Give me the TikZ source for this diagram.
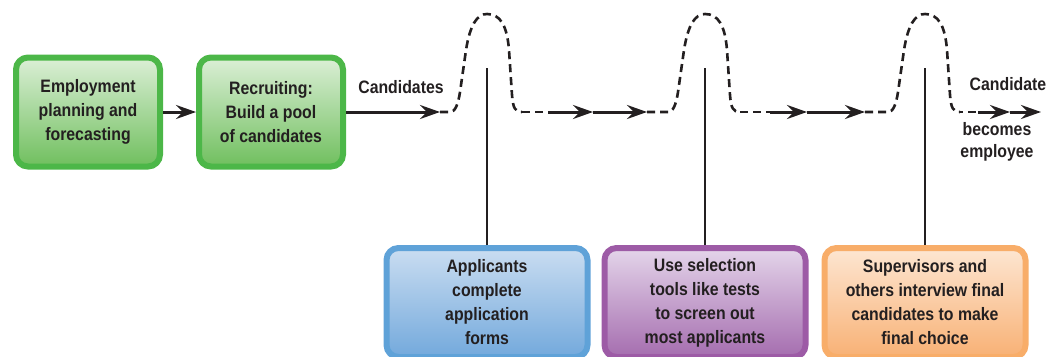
\documentclass[tikz,border=0pt]{standalone}
\usepackage{fontspec}
\usepackage{xcolor}
\setmainfont{Liberation Sans}[FakeStretch=0.88]
\usetikzlibrary{arrows.meta}

\definecolor{inktext}{HTML}{231F20}
\definecolor{grnline}{HTML}{4CB748}
\definecolor{grntop}{HTML}{DCEFD6}
\definecolor{grnbot}{HTML}{6FBF5E}
\definecolor{bluline}{HTML}{5FA2D8}
\definecolor{blutop}{HTML}{CADDF1}
\definecolor{blubot}{HTML}{73A9DC}
\definecolor{purline}{HTML}{9D5BA6}
\definecolor{purtop}{HTML}{E4D5EA}
\definecolor{purbot}{HTML}{A56DAF}
\definecolor{orgline}{HTML}{F8AD69}
\definecolor{orgtop}{HTML}{FDE6D2}
\definecolor{orgbot}{HTML}{F8B175}

\tikzset{
  stagebox/.style={rounded corners=12pt, line width=6pt, align=center, inner sep=0pt,
    text=inktext, font=\fontsize{18}{24}\selectfont\bfseries},
  topbox/.style={stagebox, minimum width=144pt, minimum height=109pt},
  lowbox/.style={stagebox, minimum width=201pt, minimum height=109pt},
  lbl/.style={text=inktext, font=\fontsize{18}{22}\selectfont\bfseries, align=center, inner sep=0pt},
  flow/.style={line width=3pt, draw=inktext, -{Stealth[length=20pt,width=14pt,inset=7pt]}},
  bump/.style={line width=2.6pt, draw=inktext, dash pattern=on 8pt off 5pt},
  dashdot/.style={line width=2.6pt, draw=inktext, dash pattern=on 8pt off 5pt on 8pt off 5pt on 3pt off 5pt},
  pole/.style={line width=2.6pt, draw=inktext},
}

\begin{document}
\begin{tikzpicture}[x=1pt,y=-1pt]
\clip (0,0) rectangle (1056,356);

% stages along the top
\node[topbox, draw=grnline, top color=grntop, bottom color=grnbot] (plan) at (88,112)
  {Employment\\planning and\\forecasting};
\node[topbox, draw=grnline, top color=grntop, bottom color=grnbot] (recruit) at (271,112)
  {Recruiting:\\Build a pool\\of candidates};

% screening boxes below
\node[lowbox, draw=bluline, top color=blutop, bottom color=blubot] (apply) at (487,302.5)
  {Applicants\\complete\\application\\forms};
\node[lowbox, draw=purline, top color=purtop, bottom color=purbot] (select) at (705,302.5)
  {Use selection\\tools like tests\\to screen out\\most applicants};
\node[lowbox, draw=orgline, top color=orgtop, bottom color=orgbot] (interview) at (925,302.5)
  {Supervisors and\\others interview final\\candidates to make\\final choice};

\node[lbl, anchor=base] (candlbl) at (401,93) {Candidates};
\node[lbl, anchor=base] (finallbl) at (1008,90) {Candidate};
\node[lbl, anchor=base] (employlbl) at (997,157) {becomes\\employee};

\coordinate (lead1) at (440,112);
\coordinate (s1) at (548,112);
\coordinate (m1) at (593,112);
\coordinate (lead2) at (647,112);
\coordinate (s2) at (770,112);
\coordinate (m2) at (807,112);
\coordinate (lead3) at (865,112);
\coordinate (s3) at (978,112);
\coordinate (m3) at (1010,112);
\coordinate (e3) at (1041,112);

\coordinate (top1) at (487,68);
\coordinate (top2) at (705,68);
\coordinate (top3) at (925,68);

\draw[flow] (plan) -- (recruit);
\draw[flow] (recruit.east) -- (lead1);
\draw[flow] (s1) -- (m1);
\draw[flow] (m1) -- (lead2);
\draw[flow] (s2) -- (m2);
\draw[flow] (m2) -- (lead3);
\draw[flow] (s3) -- (m3);
\draw[flow] (m3) -- (e3);

% the hurdles
\foreach \bx/\lead in {487/lead1, 705/lead2, 925/lead3}{
  \draw[bump] (\lead) -- (\bx-37,112)
    .. controls (\bx-32,112) and (\bx-29,105) .. (\bx-27,92) -- (\bx-21,50)
    .. controls (\bx-17,25) and (\bx-10,14) .. (\bx,14)
    .. controls (\bx+13,14) and (\bx+20,25) .. (\bx+22,50) -- (\bx+25,95)
    .. controls (\bx+26,108) and (\bx+28,112) .. (\bx+35,112);
}
\draw[dashdot] (522,112) -- (s1);
\draw[bump] (740,112) -- (s2);
\draw[line width=2.6pt, draw=inktext, dash pattern=on 3pt off 5pt on 8pt off 5pt] (960,112) -- (s3);

\draw[pole] (apply) -- (top1);
\draw[pole] (select) -- (top2);
\draw[pole] (interview) -- (top3);

\end{tikzpicture}
\end{document}
